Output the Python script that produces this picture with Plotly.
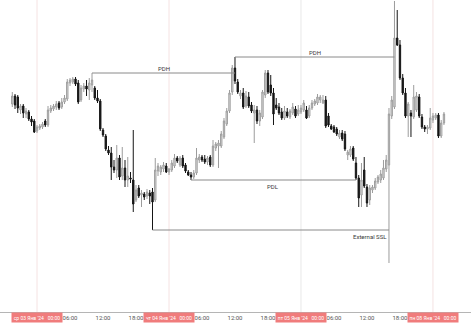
import pandas as pd
import plotly.graph_objects as go

# ---- data (30-min candles, arbitrary price units) ----
open_ = [226,234,233,220,224,216,218,211,209,199,
         202,203,209,205,219,221,223,227,223,228,
         231,247,248,251,247,230,241,244,240,245,
         242,232,229,200,194,180,177,163,160,172,
         154,162,150,152,150,130,142,135,136,134,
         137,138,130,159,158,161,164,158,160,164,
         172,165,172,165,158,155,153,157,170,173,
         171,168,173,165,182,184,184,193,206,219,
         238,262,248,234,237,224,233,225,217,220,
         209,213,235,257,245,237,225,223,218,212,
         218,213,217,221,216,218,220,220,214,222,
         226,227,230,227,230,214,204,203,201,193,
         197,196,175,175,182,167,152,135,160,143,
         130,140,142,148,150,152,161,165,214,223,
         292,285,252,237,214,217,213,220,233,213,
         203,201,202,210,212,215,194,207]
high = [238,236,235,226,226,222,220,214,211,205,
        206,208,211,224,225,226,229,229,232,235,
        251,252,253,253,250,245,247,250,252,257,
        244,240,231,202,196,184,183,170,185,175,
        183,170,173,158,200,145,145,140,138,141,
        140,142,172,167,165,168,167,162,170,176,
        174,174,175,167,160,158,160,182,176,175,
        175,174,175,190,188,190,199,212,222,240,
        265,273,251,240,242,239,238,228,225,224,
        220,240,260,260,255,242,232,227,222,224,
        222,221,227,224,225,225,230,224,225,230,
        231,236,235,235,234,217,206,205,203,200,
        200,199,180,184,184,173,155,167,173,146,
        145,145,152,155,160,170,175,222,234,329,
        320,290,256,242,228,220,245,238,236,216,
        205,205,222,217,217,217,210,218]
low = [223,221,217,216,212,212,209,204,197,197,
       200,201,203,203,217,219,220,220,221,226,
       229,244,246,244,226,228,238,234,230,238,
       230,227,199,193,179,175,150,157,152,150,
       150,143,143,147,118,128,132,123,130,131,
       126,100,128,154,155,158,157,155,158,162,
       167,163,162,157,154,150,151,155,167,168,
       166,165,163,163,179,162,182,191,204,217,
       235,246,236,231,221,222,222,217,187,206,
       204,211,232,236,234,205,220,215,210,210,
       212,211,215,212,214,216,218,211,212,220,
       224,225,227,226,202,203,200,197,194,191,
       189,179,170,173,169,150,123,123,142,123,
       125,137,140,146,147,150,158,67,211,221,
       284,250,235,212,193,193,211,218,212,201,
       198,196,200,207,210,192,192,205]
close = [234,225,222,224,217,219,211,208,198,203,
         204,206,205,220,222,224,226,222,228,232,
         248,250,251,246,228,242,244,241,247,250,
         232,229,201,195,181,177,163,160,172,153,
         162,150,154,151,126,140,134,137,133,138,
         134,128,160,164,163,165,158,161,167,172,
         169,172,164,159,155,153,157,172,173,170,
         168,172,165,184,186,187,196,209,219,237,
         262,249,238,237,223,234,224,219,220,209,
         217,238,257,238,237,216,222,217,212,219,
         214,219,223,214,220,222,227,212,222,227,
         229,233,233,230,204,205,201,198,196,197,
         191,181,178,181,171,152,132,150,144,127,
         142,143,149,153,156,162,170,216,230,292,
         285,252,237,214,226,214,233,234,214,203,
         201,203,212,214,215,194,207,216]

start_time = "2024-01-02 19:30"
end_time = "2024-01-08 02:00"

# key levels
level_names = ["PDH", "PDH", "PDL", "External SSL"]
level_start = ["2024-01-03 10:00", "2024-01-04 12:00", "2024-01-04 04:00", "2024-01-03 21:00"]
level_end = ["2024-01-04 12:00", "2024-01-05 17:00", "2024-01-05 10:00", "2024-01-05 16:00"]
level_price = [257, 273, 150, 100]

# axis labels
day_starts = ["2024-01-03 00:00", "2024-01-04 00:00", "2024-01-05 00:00", "2024-01-08 00:00"]
day_labels = ["ср 03 Янв '24   00:00", "чт 04 Янв '24   00:00",
              "пт 05 Янв '24   00:00", "пн 08 Янв '24   00:00"]
hour_ticks = ["2024-01-03 06:00", "2024-01-03 12:00", "2024-01-03 18:00",
              "2024-01-04 06:00", "2024-01-04 12:00", "2024-01-04 18:00",
              "2024-01-05 06:00", "2024-01-05 12:00", "2024-01-05 18:00"]
hour_labels = ["06:00", "12:00", "18:00"] * 3

# ---- build ----
t = pd.date_range(start_time, end_time, freq="30min")
t = t[t.weekday < 5]

fig = go.Figure()
fig.add_trace(go.Candlestick(
    x=t, open=open_, high=high, low=low, close=close,
    increasing=dict(line=dict(color="#9c9c9c", width=1), fillcolor="#e6e6e6"),
    decreasing=dict(line=dict(color="#151515", width=1), fillcolor="#151515"),
    whiskerwidth=0, showlegend=False, hoverinfo="skip",
))

sep_colors = ["#f5e2e2", "#f5e2e2", "#e8e8e8", "#f5e2e2"]
for d, c in zip(day_starts, sep_colors):
    fig.add_shape(type="line", xref="x", yref="paper", x0=d, x1=d, y0=0, y1=1,
                  line=dict(color=c, width=1), layer="below")

lab_font = dict(size=6, color="#3a3a3a", family="Roboto")
for name, s, e, p in zip(level_names, level_start, level_end, level_price):
    fig.add_shape(type="line", xref="x", yref="y", x0=s, x1=e, y0=p, y1=p,
                  line=dict(color="#8a8a8a", width=1))
    ts, te = pd.Timestamp(s), pd.Timestamp(e)
    mid = ts + (te - ts) / 2
    if name == "PDH":
        fig.add_annotation(x=mid, y=p, text=name, showarrow=False, yshift=5, font=lab_font)
    elif name == "PDL":
        fig.add_annotation(x=mid, y=p, text=name, showarrow=False, yshift=-6, font=lab_font)
    else:
        fig.add_annotation(x=te, y=p, text=name, showarrow=False, yshift=-6,
                           xanchor="right", font=lab_font)

for d, lab in zip(day_starts, day_labels):
    fig.add_annotation(x=d, y=0, yref="paper", text=lab, showarrow=False,
                       yshift=-5, yanchor="middle", xanchor="center",
                       bgcolor="#f07c7c", width=50, height=9, borderpad=0,
                       font=dict(size=5, color="white", family="Roboto"))

fig.update_layout(
    width=471, height=328,
    margin=dict(l=0, r=0, t=0, b=16),
    paper_bgcolor="white", plot_bgcolor="white",
    xaxis=dict(
        type="date",
        range=["2024-01-02 17:16", "2024-01-08 06:55"],
        rangebreaks=[dict(bounds=["sat", "mon"])],
        rangeslider=dict(visible=False),
        showgrid=False, zeroline=False,
        tickmode="array", tickvals=hour_ticks, ticktext=hour_labels,
        tickfont=dict(size=6, color="#555", family="Roboto"),
        ticks="", ticklabelstandoff=0,
        showline=True, linecolor="#b5b5b5", linewidth=1,
    ),
    yaxis=dict(range=[18, 330], visible=False, showgrid=False, zeroline=False),
)

fig.write_html("out.html")
